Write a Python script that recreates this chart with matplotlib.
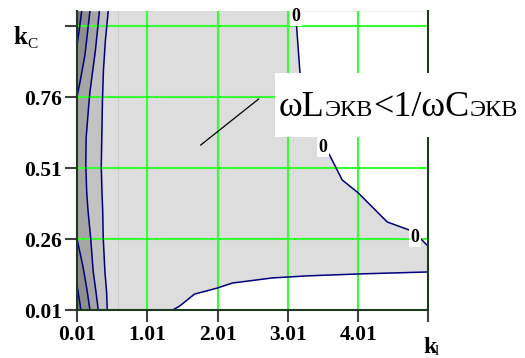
import matplotlib
matplotlib.use('Agg')
import matplotlib.pyplot as plt
from matplotlib.patches import Rectangle

W, H, DPI = 525, 358, 100
SERIF = 'Liberation Serif'

# ---- axes / ticks ----
x_ticks = [0.01, 1.01, 2.01, 3.01, 4.01, 5.0]
x_tick_labels = ['0.01', '1.01', '2.01', '3.01', '4.01', '']
y_ticks = [0.01, 0.26, 0.51, 0.76, 1.01]
y_tick_labels = ['0.01', '0.26', '0.51', '0.76', '']
x_grid = [1.01, 2.01, 3.01, 4.01]
y_grid = [0.26, 0.51, 0.76, 1.01]
x_min, x_max = 0.01, 5.0
y_min, y_max = 0.01, 1.063

# ---- zero-level contour (upper right) ----
upper_zero_x = [3.116, 3.18, 3.24, 3.50, 3.60, 3.78, 4.01, 4.42, 4.73, 4.90, 5.0]
upper_zero_y = [1.063, 0.845, 0.714, 0.584, 0.556, 0.468, 0.422, 0.320, 0.292, 0.260, 0.235]
# ---- zero-level contour (bottom) ----
lower_zero_x = [1.37, 1.47, 1.68, 2.00, 2.22, 2.79, 3.27, 4.02, 5.0]
lower_zero_y = [0.01, 0.024, 0.066, 0.087, 0.105, 0.123, 0.130, 0.137, 0.144]

# ---- left contour levels (x as function of y) ----
c4_y = [1.063, 0.961, 0.855, 0.749, 0.616, 0.514, 0.425, 0.362, 0.264, 0.144, 0.073, 0.01]
c4_x = [0.454, 0.414, 0.386, 0.372, 0.362, 0.355, 0.365, 0.375, 0.383, 0.407, 0.431, 0.440]
c3_y = [1.063, 0.925, 0.778, 0.732, 0.616, 0.521, 0.425, 0.362, 0.264, 0.144, 0.073, 0.01]
c3_x = [0.329, 0.272, 0.194, 0.177, 0.140, 0.135, 0.148, 0.166, 0.204, 0.241, 0.280, 0.312]
c2_top_y = [1.063, 0.908, 0.813, 0.762]
c2_top_x = [0.194, 0.123, 0.053, 0.01]
c2_bot_y = [0.26, 0.168, 0.087, 0.01]
c2_bot_x = [0.01, 0.091, 0.148, 0.194]
c1_top_y = [1.063, 1.003, 0.943]
c1_top_x = [0.077, 0.045, 0.01]
c1_bot_y = [0.098, 0.017, 0.01]
c1_bot_x = [0.01, 0.062, 0.067]

faint_line_x = 0.59

# ---- zero labels ----
zero_label_x = [3.123, 3.506, 4.811]
zero_label_y = [1.045, 0.584, 0.267]
zero_label_text = ['0', '0', '0']

# ---- annotation pointer ----
pointer_x = [1.769, 2.592]
pointer_y = [0.591, 0.753]

col_light = '#dddddd'
col_c4 = '#c3c3c3'
col_c3 = '#a5a5a5'
col_c2 = '#8e8e8e'
col_c1 = '#7a7a7a'
line_col = '#000080'
grid_col = '#33ff33'
spine_col = '#1c3a1c'

fig = plt.figure(figsize=(W / DPI, H / DPI), dpi=DPI)
fig.patch.set_facecolor('white')
ax = fig.add_axes([77 / W, 48 / H, 351 / W, 299 / H])
ax.set_xlim(x_min, x_max)
ax.set_ylim(y_min, y_max)
ax.set_facecolor(col_light)

# white regions
ax.fill_between(upper_zero_x, upper_zero_y, y_max, color='white', lw=0, zorder=1)
ax.fill_between(lower_zero_x, y_min, lower_zero_y, color='white', lw=0, zorder=1)
# left shaded levels
ax.fill_betweenx(c4_y, x_min, c4_x, color=col_c4, lw=0, zorder=1)
ax.fill_betweenx(c3_y, x_min, c3_x, color=col_c3, lw=0, zorder=1)
ax.fill_betweenx(c2_top_y, x_min, c2_top_x, color=col_c2, lw=0, zorder=1)
ax.fill_betweenx(c2_bot_y, x_min, c2_bot_x, color=col_c2, lw=0, zorder=1)
ax.fill_betweenx(c1_top_y, x_min, c1_top_x, color=col_c1, lw=0, zorder=1)
ax.fill_betweenx(c1_bot_y, x_min, c1_bot_x, color=col_c1, lw=0, zorder=1)

ax.axvline(faint_line_x, color='#cdcdcd', lw=0.8, zorder=1.5)

# grid
for gx in x_grid:
    ax.axvline(gx, color=grid_col, lw=1.5, zorder=2)
for gy in y_grid:
    ax.axhline(gy, color=grid_col, lw=1.5, zorder=2)

# contour lines
for xs, ys in [(upper_zero_x, upper_zero_y), (lower_zero_x, lower_zero_y),
               (c4_x, c4_y), (c3_x, c3_y), (c2_top_x, c2_top_y), (c2_bot_x, c2_bot_y),
               (c1_top_x, c1_top_y), (c1_bot_x, c1_bot_y)]:
    ax.plot(xs, ys, color=line_col, lw=1.1, zorder=3, clip_on=True)

ax.plot(pointer_x, pointer_y, color='black', lw=0.9, zorder=3)

for zx, zy, zt in zip(zero_label_x, zero_label_y, zero_label_text):
    ax.text(zx, zy, zt, ha='center', va='center', family=SERIF, fontweight='bold',
            fontsize=13, zorder=4, clip_on=False,
            bbox=dict(boxstyle='square,pad=0.08', fc='white', ec='none'))

# spines & ticks
ax.spines['top'].set_visible(False)
for s in ['left', 'right', 'bottom']:
    ax.spines[s].set_color(spine_col)
    ax.spines[s].set_linewidth(1.5)
    ax.spines[s].set_zorder(5)
ax.set_xticks(x_ticks)
ax.set_xticklabels(x_tick_labels)
ax.set_yticks(y_ticks)
ax.set_yticklabels(y_tick_labels)
ax.tick_params(direction='out', length=8.6, width=1.5, color='#404040', pad=2)
for lab in ax.get_xticklabels() + ax.get_yticklabels():
    lab.set_family(SERIF)
    lab.set_fontweight('bold')
    lab.set_fontsize(15.5)

# axis labels
fig.text(13 / W, 1 - 44 / H, 'k', family=SERIF, fontweight='bold', fontsize=18,
         ha='left', va='baseline')
fig.text(27 / W, 1 - 48 / H, 'C', family=SERIF, fontsize=11, ha='left', va='baseline')
fig.text(423 / W, 1 - 353 / H, 'k', family=SERIF, fontweight='bold', fontsize=17,
         ha='left', va='baseline')
fig.text(435 / W, 1 - 355 / H, 'l', family=SERIF, fontsize=11, ha='left', va='baseline')

# text box
fig.add_artist(Rectangle((275 / W, 1 - 137 / H), 250 / W, 64 / H, transform=fig.transFigure,
                         facecolor='white', edgecolor='none', zorder=10))
fig.canvas.draw()
renderer = fig.canvas.get_renderer()
pieces = [('ωL', 26), ('ЭКВ', 17.5), ('<1/ωC', 26), ('ЭКВ', 17.5)]
xpix = 279
for s, size in pieces:
    t = fig.text(xpix / W, 1 - 116 / H, s, family=SERIF, fontsize=size,
                 ha='left', va='baseline', zorder=11)
    bb = t.get_window_extent(renderer)
    xpix = bb.x1

fig.savefig('out.png', dpi=DPI)
